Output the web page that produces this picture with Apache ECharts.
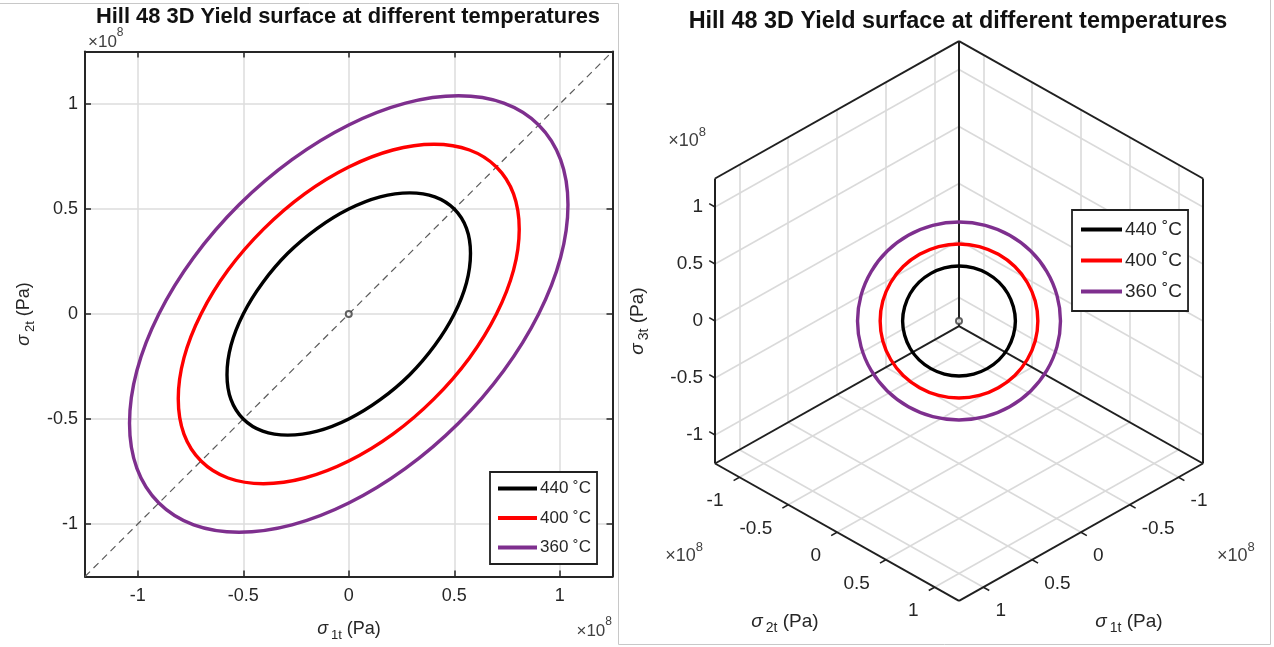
<!DOCTYPE html>
<html>
<head>
<meta charset="utf-8">
<script src="https://cdn.jsdelivr.net/npm/echarts@6/dist/echarts.min.js"></script>
<style>
  html, body { margin: 0; padding: 0; background: #ffffff; }
  #chart { width: 1274px; height: 647px; }
</style>
</head>
<body>
<div id="chart"></div>
<script>
// ---- data (stresses in units of 1e8 Pa) ----
const temperatures = ['440 ˚C', '400 ˚C', '360 ˚C'];

// yield loci in the sigma1-sigma2 plane (sigma3 = 0), pairs [sigma1, sigma2]
const locus440 = [
  [0.5, 0.5], [0.558, 0.408], [0.577, 0.289], [0.558, 0.149], [0.5, 0], [0.408, -0.149],
  [0.289, -0.289], [0.149, -0.408], [0, -0.5], [-0.149, -0.558], [-0.289, -0.577], [-0.408, -0.558],
  [-0.5, -0.5], [-0.558, -0.408], [-0.577, -0.289], [-0.558, -0.149], [-0.5, 0], [-0.408, 0.149],
  [-0.289, 0.289], [-0.149, 0.408], [0, 0.5], [0.149, 0.558], [0.289, 0.577], [0.408, 0.558]
];
const locus400 = [
  [0.7, 0.7], [0.781, 0.572], [0.808, 0.404], [0.781, 0.209], [0.7, 0], [0.572, -0.209],
  [0.404, -0.404], [0.209, -0.572], [0, -0.7], [-0.209, -0.781], [-0.404, -0.808], [-0.572, -0.781],
  [-0.7, -0.7], [-0.781, -0.572], [-0.808, -0.404], [-0.781, -0.209], [-0.7, 0], [-0.572, 0.209],
  [-0.404, 0.404], [-0.209, 0.572], [0, 0.7], [0.209, 0.781], [0.404, 0.808], [0.572, 0.781]
];
const locus360 = [
  [0.9, 0.9], [1.004, 0.735], [1.039, 0.520], [1.004, 0.269], [0.9, 0], [0.735, -0.269],
  [0.520, -0.520], [0.269, -0.735], [0, -0.9], [-0.269, -1.004], [-0.520, -1.039], [-0.735, -1.004],
  [-0.9, -0.9], [-1.004, -0.735], [-1.039, -0.520], [-1.004, -0.269], [-0.9, 0], [-0.735, 0.269],
  [-0.520, 0.520], [-0.269, 0.735], [0, 0.9], [0.269, 1.004], [0.520, 1.039], [0.735, 1.004]
];

const axisLimit = 1.25;
const tickValues = [-1, -0.5, 0, 0.5, 1];
const tickLabels = ['-1', '-0.5', '0', '0.5', '1'];
const equalStressLine = [[-1.25, -1.25], [1.25, 1.25]];
const origin = [[0, 0]];

// ---- styling ----
const FONT = "'Liberation Sans', Arial, sans-serif";
const TXT = '#262626';
const lineColors = ['#000000', '#ff0000', '#7e2f8e'];
const loci = [locus440, locus400, locus360];

// ---- 3D view: orthographic projection onto the screen plane ----
const ELEV = 34.3 * Math.PI / 180;   // elevation of the view
const PX = 138;                      // pixels per unit in the 3D panel
function project(s1, s2, s3) {
  return [
    (s2 - s1) * Math.SQRT1_2,
    s3 * Math.cos(ELEV) - (s1 + s2) * Math.sin(ELEV) * Math.SQRT1_2
  ];
}
const L = axisLimit;

// grid lines on the three back planes
const backGrid3D = [];
tickValues.forEach(t => {
  backGrid3D.push([[-L, t, -L], [-L, t, L]]);
  backGrid3D.push([[-L, -L, t], [-L, L, t]]);
  backGrid3D.push([[t, -L, -L], [t, -L, L]]);
  backGrid3D.push([[-L, -L, t], [L, -L, t]]);
  backGrid3D.push([[t, -L, -L], [t, L, -L]]);
  backGrid3D.push([[-L, t, -L], [L, t, -L]]);
});
// edges of the back planes
const boxEdges3D = [
  [[-L, -L, -L], [-L, -L, L]],
  [[-L, -L, -L], [L, -L, -L]],
  [[-L, -L, -L], [-L, L, -L]],
  [[-L, -L, L], [L, -L, L]],
  [[-L, -L, L], [-L, L, L]],
  [[L, -L, -L], [L, -L, L]],
  [[-L, L, -L], [-L, L, L]],
  [[L, -L, -L], [L, L, -L]],
  [[-L, L, -L], [L, L, -L]]
];
// tick marks on the three labelled axes
const TK = 0.06;
const ticks3D = [];
tickValues.forEach(t => {
  ticks3D.push([[L, t, -L], [L + TK, t, -L]]);   // sigma2 axis
  ticks3D.push([[t, L, -L], [t, L + TK, -L]]);   // sigma1 axis
  ticks3D.push([[L, -L, t], [L, -L - TK, t]]);   // sigma3 axis
});
const toSegs = segs => segs.map(s => ({ coords: s.map(p => project(p[0], p[1], p[2])) }));

// closed smooth curve through a list of points
function loopRenderer(points, color) {
  return function (params, api) {
    if (params.dataIndex !== 0) return null;
    return {
      type: 'polygon',
      silent: true,
      shape: { points: points.map(p => api.coord(p)), smooth: 0.35 },
      style: { fill: 'none', stroke: color, lineWidth: 3.4 }
    };
  };
}
// tick label renderer for the 3D panel
function labelRenderer(dx, dy, align, size) {
  return function (params, api) {
    const p = api.coord([api.value(0), api.value(1)]);
    return {
      type: 'text', silent: true,
      x: p[0] + dx, y: p[1] + dy,
      style: {
        text: tickLabels[params.dataIndex], fill: TXT, fontSize: size, fontFamily: FONT,
        align: align, verticalAlign: 'middle'
      }
    };
  };
}

const series = [];
// left panel
series.push({
  type: 'line', xAxisIndex: 0, yAxisIndex: 0, data: equalStressLine, symbol: 'none', silent: true,
  lineStyle: { color: '#5a5a5a', width: 1.2, type: [7, 5] }, z: 2
});
loci.forEach((pts, i) => {
  series.push({
    type: 'custom', name: temperatures[i], coordinateSystem: 'cartesian2d', xAxisIndex: 0, yAxisIndex: 0,
    data: pts, itemStyle: { color: lineColors[i] }, renderItem: loopRenderer(pts, lineColors[i]), z: 3
  });
});
series.push({
  type: 'scatter', xAxisIndex: 0, yAxisIndex: 0, data: origin, symbol: 'emptyCircle', symbolSize: 6,
  itemStyle: { color: '#3a3a3a', borderWidth: 1 }, silent: true, z: 4
});

// right panel
series.push({
  type: 'lines', coordinateSystem: 'cartesian2d', xAxisIndex: 2, yAxisIndex: 2, silent: true,
  data: toSegs(backGrid3D), lineStyle: { color: '#dadada', width: 1.6, opacity: 1 }, z: 1
});
series.push({
  type: 'lines', coordinateSystem: 'cartesian2d', xAxisIndex: 2, yAxisIndex: 2, silent: true,
  data: toSegs(boxEdges3D), lineStyle: { color: '#202020', width: 2, opacity: 1 }, z: 2
});
series.push({
  type: 'lines', coordinateSystem: 'cartesian2d', xAxisIndex: 2, yAxisIndex: 2, silent: true,
  data: toSegs(ticks3D), lineStyle: { color: '#202020', width: 1.5, opacity: 1 }, z: 2
});
loci.forEach((pts, i) => {
  const proj = pts.map(p => project(p[0], p[1], 0));
  series.push({
    type: 'custom', name: temperatures[i], coordinateSystem: 'cartesian2d', xAxisIndex: 2, yAxisIndex: 2,
    data: proj, itemStyle: { color: lineColors[i] }, renderItem: loopRenderer(proj, lineColors[i]), z: 3
  });
});
series.push({
  type: 'scatter', xAxisIndex: 2, yAxisIndex: 2, data: [project(0, 0, 0)], symbol: 'emptyCircle', symbolSize: 6,
  itemStyle: { color: '#3a3a3a', borderWidth: 1 }, silent: true, z: 4
});
// 3D tick labels
series.push({
  type: 'custom', coordinateSystem: 'cartesian2d', xAxisIndex: 2, yAxisIndex: 2,
  data: tickValues.map(t => project(L, t, -L)), renderItem: labelRenderer(-16, 24, 'right', 19), z: 5
});
series.push({
  type: 'custom', coordinateSystem: 'cartesian2d', xAxisIndex: 2, yAxisIndex: 2,
  data: tickValues.map(t => project(t, L, -L)), renderItem: labelRenderer(12, 24, 'left', 19), z: 5
});
series.push({
  type: 'custom', coordinateSystem: 'cartesian2d', xAxisIndex: 2, yAxisIndex: 2,
  data: tickValues.map(t => project(L, -L, t)), renderItem: labelRenderer(-12, 0, 'right', 19), z: 5
});

const frameAxisLine = { onZero: false, lineStyle: { color: TXT, width: 2 } };
const frameTick = { inside: true, length: 6, lineStyle: { color: TXT, width: 1.5 } };
const gridSplit = { show: true, lineStyle: { color: '#dcdcdc', width: 1.5 } };
const tickLabelStyle = { color: TXT, fontSize: 18, fontFamily: FONT, showMinLabel: false, showMaxLabel: false };

function sigmaName(idx, size) {
  return {
    text: '{g|σ}{s|' + idx + 't}{n| (Pa)}',
    rich: {
      g: { fontSize: size, fontFamily: FONT, fontStyle: 'italic', fill: TXT, lineHeight: 26, verticalAlign: 'middle' },
      s: { fontSize: Math.round(size * 0.72), fontFamily: FONT, fill: TXT, lineHeight: 26, verticalAlign: 'bottom', padding: [0, 0, 0, 3] },
      n: { fontSize: size, fontFamily: FONT, fill: TXT, lineHeight: 26, verticalAlign: 'middle' }
    }
  };
}
function exponent(size) {
  return {
    text: '{a|×10}{e|8}',
    rich: {
      a: { fontSize: size, fontFamily: FONT, fill: '#404040', lineHeight: 24, verticalAlign: 'bottom' },
      e: { fontSize: Math.round(size * 0.7), fontFamily: FONT, fill: '#404040', lineHeight: 24, verticalAlign: 'top' }
    }
  };
}
function txt(x, y, style, extra) {
  return Object.assign({ type: 'text', x: x, y: y, silent: true, style: Object.assign({ align: 'center', verticalAlign: 'middle' }, style) }, extra || {});
}

const option = {
  animation: false,
  backgroundColor: '#ffffff',
  textStyle: { fontFamily: FONT },
  grid: [
    { left: 85, top: 51.5, width: 527.5, height: 525 },
    { left: 959 - 2.2 * PX, top: 321 - 2.2 * PX, width: 4.4 * PX, height: 4.4 * PX }
  ],
  xAxis: [
    { gridIndex: 0, type: 'value', min: -axisLimit, max: axisLimit, splitNumber: 5, position: 'bottom',
      axisLine: frameAxisLine, axisTick: frameTick, axisLabel: Object.assign({ margin: 11 }, tickLabelStyle), splitLine: gridSplit },
    { gridIndex: 0, type: 'value', min: -axisLimit, max: axisLimit, splitNumber: 5, position: 'top',
      axisLine: frameAxisLine, axisTick: frameTick, axisLabel: { show: false }, splitLine: { show: false } },
    { gridIndex: 1, type: 'value', min: -2.2, max: 2.2, show: false }
  ],
  yAxis: [
    { gridIndex: 0, type: 'value', min: -axisLimit, max: axisLimit, splitNumber: 5, position: 'left',
      axisLine: frameAxisLine, axisTick: frameTick, axisLabel: Object.assign({ margin: 7 }, tickLabelStyle), splitLine: gridSplit },
    { gridIndex: 0, type: 'value', min: -axisLimit, max: axisLimit, splitNumber: 5, position: 'right',
      axisLine: frameAxisLine, axisTick: frameTick, axisLabel: { show: false }, splitLine: { show: false } },
    { gridIndex: 1, type: 'value', min: -2.2, max: 2.2, show: false }
  ],
  legend: [
    { left: 490, top: 472, orient: 'vertical', icon: 'rect', itemWidth: 39, itemHeight: 4, itemGap: 12.5,
      padding: [8, 6, 8, 8], backgroundColor: '#ffffff', borderColor: '#202020', borderWidth: 1.8,
      textStyle: { fontSize: 17, color: TXT, fontFamily: FONT, padding: [0, 0, 0, -2] },
      data: temperatures.map((n, i) => ({ name: n, itemStyle: { color: lineColors[i] } })), selectedMode: false },
    { left: 1072, top: 210, orient: 'vertical', icon: 'rect', itemWidth: 41, itemHeight: 4, itemGap: 12,
      padding: [10, 6, 10, 9], backgroundColor: '#ffffff', borderColor: '#202020', borderWidth: 1.8,
      textStyle: { fontSize: 19, color: TXT, fontFamily: FONT, padding: [0, 0, 0, -2] },
      data: temperatures.map((n, i) => ({ name: n, itemStyle: { color: lineColors[i] } })), selectedMode: false }
  ],
  graphic: [
    // panel frames
    { type: 'line', silent: true, shape: { x1: 0, y1: 3.5, x2: 618.5, y2: 3.5 }, style: { stroke: '#c8c8c8', lineWidth: 1 } },
    { type: 'line', silent: true, shape: { x1: 618.5, y1: 3.5, x2: 618.5, y2: 644.5 }, style: { stroke: '#c8c8c8', lineWidth: 1 } },
    { type: 'line', silent: true, shape: { x1: 618.5, y1: 644.5, x2: 1270.5, y2: 644.5 }, style: { stroke: '#c8c8c8', lineWidth: 1 } },
    { type: 'line', silent: true, shape: { x1: 1270.5, y1: 0, x2: 1270.5, y2: 644.5 }, style: { stroke: '#c8c8c8', lineWidth: 1 } },
    // titles
    txt(348, 17, { text: 'Hill 48 3D Yield surface at different temperatures', fill: '#111', fontSize: 21.9, fontWeight: 'bold', fontFamily: FONT }),
    txt(958, 22, { text: 'Hill 48 3D Yield surface at different temperatures', fill: '#111', fontSize: 23.4, fontWeight: 'bold', fontFamily: FONT }),
    // left panel axis names and exponents
    txt(349, 629, sigmaName(1, 18)),
    txt(24, 314, sigmaName(2, 18), { rotation: Math.PI / 2 }),
    txt(88, 39, Object.assign({ align: 'left' }, exponent(17))),
    txt(612, 628, Object.assign({ align: 'right' }, exponent(17))),
    // right panel axis names and exponents
    txt(785, 622, sigmaName(2, 19)),
    txt(1129, 622, sigmaName(1, 19)),
    txt(638, 321, sigmaName(3, 19), { rotation: Math.PI / 2 }),
    txt(706, 138, Object.assign({ align: 'right' }, exponent(18))),
    txt(703, 553, Object.assign({ align: 'right' }, exponent(18))),
    txt(1217, 553, Object.assign({ align: 'left' }, exponent(18)))
  ],
  series: series
};

const chart = echarts.init(document.getElementById('chart'), null, { renderer: 'canvas', width: 1274, height: 647 });
chart.setOption(option);
</script>
</body>
</html>
